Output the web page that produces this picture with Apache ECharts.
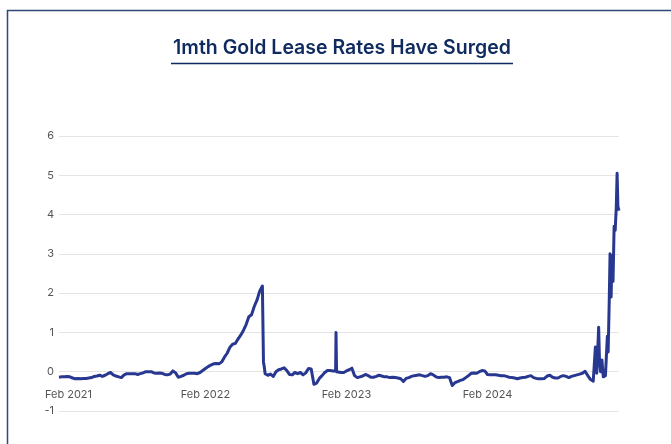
<!DOCTYPE html>
<html>
<head>
<meta charset="utf-8">
<script src="https://cdn.jsdelivr.net/npm/echarts@6/dist/echarts.min.js"></script>
<style>
html,body{margin:0;padding:0;background:#fff;overflow:hidden;}
#chart{width:671px;height:444px;}
</style>
</head>
<body>
<div id="chart"></div>
<script>
// x = weeks since 22 Jan 2021, y = 1-month gold lease rate (%)
const lease1m = [
[0,-0.14],[1,-0.13],[2,-0.13],[3,-0.12],[4,-0.13],[5,-0.16],[6,-0.18],[7,-0.17],[8,-0.18],[9,-0.17],
[10,-0.17],[11,-0.16],[12,-0.15],[13,-0.12],[14,-0.11],[15,-0.09],[16,-0.12],[17,-0.09],[18,-0.05],[19,-0.02],
[20,-0.08],[21,-0.11],[22,-0.13],[23,-0.15],[24,-0.08],[25,-0.05],[26,-0.05],[27,-0.05],[28,-0.05],[29,-0.07],
[30,-0.05],[31,-0.03],[32,0.0],[33,0.0],[34,0.0],[35,-0.03],[36,-0.04],[37,-0.03],[38,-0.04],[39,-0.07],
[40,-0.08],[41,-0.06],[42,0.02],[43,-0.03],[44,-0.14],[45,-0.12],[46,-0.09],[47,-0.05],[48,-0.04],[49,-0.04],
[50,-0.04],[51,-0.05],[52,-0.02],[53,0.03],[54,0.08],[55,0.13],[56,0.17],[57,0.2],[58,0.21],[59,0.2],
[60,0.25],[61,0.37],[62,0.47],[63,0.62],[64,0.7],[65,0.72],[66,0.83],[67,0.93],[68,1.05],[69,1.2],
[70,1.4],[71,1.45],[72,1.66],[73,1.82],[74,2.05],[75,2.18],[75.4,0.25],[75.7,0.12],
[76,-0.05],[77,-0.09],[78,-0.06],[79,-0.12],[80,0.0],[81,0.05],[82,0.07],[83,0.1],[84,0.03],[85,-0.07],
[86,-0.08],[87,-0.02],[88,-0.05],[89,-0.02],[90,-0.08],[91,-0.03],[92,0.08],[93,0.07],[94,-0.32],[95,-0.29],
[96,-0.17],[97,-0.1],[98,-0.02],[99,0.03],[100,0.03],[101,0.02],[102,0.02],[102.15,1.0],[102.35,0.0],
[103,-0.01],[104,-0.02],[105,-0.02],[106,0.02],[107,0.05],[108,0.09],[109,-0.1],[110,-0.15],[111,-0.13],
[112,-0.11],[113,-0.07],[114,-0.1],[115,-0.14],[116,-0.14],[117,-0.12],[118,-0.09],[119,-0.11],[120,-0.13],
[121,-0.13],[122,-0.15],[123,-0.14],[124,-0.15],[125,-0.16],[126,-0.18],[127,-0.25],[128,-0.17],[129,-0.15],
[130,-0.12],[131,-0.1],[132,-0.09],[133,-0.08],[134,-0.1],[135,-0.12],[136,-0.1],[137,-0.05],[138,-0.08],
[139,-0.13],[140,-0.15],[141,-0.14],[142,-0.14],[143,-0.13],[144,-0.15],[145,-0.35],[146,-0.28],[147,-0.25],
[148,-0.22],[149,-0.2],[150,-0.15],[151,-0.1],[152,-0.04],[153,-0.03],[154,-0.04],[155,0.0],[156,0.03],
[157,0.02],[158,-0.07],[159,-0.08],[160,-0.08],[161,-0.08],[162,-0.09],[163,-0.1],[164,-0.1],[165,-0.12],
[166,-0.14],[167,-0.15],[168,-0.16],[169,-0.18],[170,-0.16],[171,-0.15],[172,-0.14],[173,-0.12],[174,-0.1],
[175,-0.15],[176,-0.17],[177,-0.18],[178,-0.18],[179,-0.17],[180,-0.11],[181,-0.09],[182,-0.14],[183,-0.16],
[184,-0.16],[185,-0.12],[186,-0.1],[187,-0.12],[188,-0.15],[189,-0.12],[190,-0.1],[191,-0.08],[192,-0.06],
[193,-0.04],[194,0.01],[195,-0.1],[196,-0.2],[197,-0.24],
[197.8,0.63],[198.3,-0.04],[199,1.13],[199.3,0.3],[199.7,0.0],[200.2,0.3],[200.7,-0.13],[201.5,-0.1],
[202.2,0.9],[202.5,0.5],[202.9,1.8],[203.2,3.0],[203.6,1.9],[203.9,2.95],[204.3,2.3],[204.7,3.7],
[205.1,3.6],[205.5,4.2],[205.8,5.05],[206.1,4.2],[206.5,4.1]
];
const xTickWeeks = [3.5, 54, 106, 158];
const xTickLabels = ['Feb 2021', 'Feb 2022', 'Feb 2023', 'Feb 2024'];
const yMin = -1, yMax = 6, yStep = 1;
const titleText = '1mth Gold Lease Rates Have Surged';

const chart = echarts.init(document.getElementById('chart'), null, {renderer: 'canvas'});
const navy = '#0f2a5e';
chart.setOption({
  animation: false,
  grid: {left: 59, right: 52, top: 136, bottom: 33, containLabel: false},
  xAxis: {
    type: 'value', min: 0, max: 206.5,
    position: 'bottom',
    offset: -40,
    axisLine: {show: false, onZero: false},
    axisTick: {show: false},
    splitLine: {show: false},
    axisLabel: {
      customValues: xTickWeeks,
      margin: 18,
      color: '#555',
      fontSize: 11,
      fontFamily: 'Inter, "Noto Sans", sans-serif',
      formatter: function (v) {
        const i = xTickWeeks.indexOf(v);
        return i >= 0 ? xTickLabels[i] : '';
      }
    }
  },
  yAxis: {
    type: 'value', min: yMin, max: yMax, interval: yStep,
    axisLine: {show: false, onZero: false},
    axisTick: {show: false},
    splitLine: {lineStyle: {color: '#e4e4e4', width: 1}},
    axisLabel: {color: '#555', fontSize: 11, margin: 5, fontFamily: 'Inter, "Noto Sans", sans-serif'}
  },
  series: [{
    type: 'line',
    data: lease1m,
    showSymbol: false,
    symbol: 'none',
    lineStyle: {color: '#283891', width: 3, join: 'round'},
    itemStyle: {color: '#283891'}
  }],
  graphic: [
    {type: 'polyline', shape: {points: [[7.5, 444], [7.5, 10.5], [671, 10.5]]},
     style: {stroke: '#2d4a7a', lineWidth: 1.5, fill: null}, silent: true},
    {type: 'text', x: 342, y: 48,
     style: {text: titleText, fill: navy, font: '600 19.5px Inter, "Noto Sans", sans-serif',
             textAlign: 'center', textVerticalAlign: 'middle'}},
    {type: 'line', shape: {x1: 171, y1: 63.5, x2: 513, y2: 63.5},
     style: {stroke: navy, lineWidth: 1.5}}
  ]
});
</script>
</body>
</html>
